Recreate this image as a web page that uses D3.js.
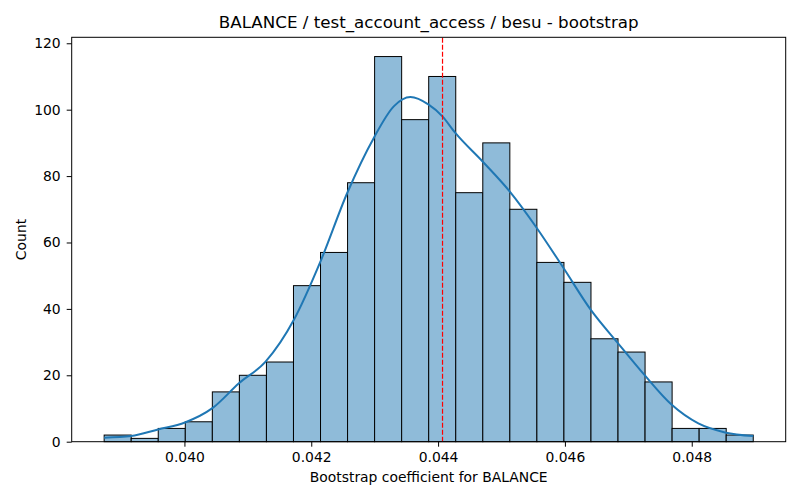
<!DOCTYPE html>
<html>
<head>
<meta charset="utf-8">
<script src="https://cdn.jsdelivr.net/npm/d3@7"></script>
<style>
  body { margin: 0; background: #fff; }
  svg { font-family: "DejaVu Sans", sans-serif; }
</style>
</head>
<body>
<div class="hist"></div>
<script>
// histogram bins (counts), first edge and bin width
const binStart = 0.038734
const binWidth = 0.0004265
const counts = [2, 1, 4, 6, 15, 20, 24, 47, 57, 78, 116, 97, 110, 75, 90, 70, 54, 48, 31, 27, 18, 4, 4, 2]

// kde curve
const kdeX = [0.038734, 0.039159, 0.039584, 0.040009, 0.040441, 0.040860, 0.041280, 0.041726, 0.042146,
  0.042567, 0.042986, 0.043301, 0.043564, 0.043852, 0.044068, 0.044272, 0.044702, 0.045128, 0.045559,
  0.045978, 0.046409, 0.046835, 0.047254, 0.047685, 0.048104, 0.048524, 0.048970]
const kdeY = [1.2, 1.7, 3.7, 5.8, 10.1, 17.6, 24.1, 36.7, 54.3, 74.9, 91.5, 101, 103.8, 101.5, 98, 93,
  84.4, 75.4, 64.3, 52.3, 39.7, 29.7, 20.1, 11.1, 5.5, 2.8, 1.7]

const meanValue = 0.04407
const xTicks = [0.040, 0.042, 0.044, 0.046, 0.048]
const yTicks = [0, 20, 40, 60, 80, 100, 120]

const title = "BALANCE / test_account_access / besu - bootstrap"
const xLabel = "Bootstrap coefficient for BALANCE"
const yLabel = "Count"

const w = 800
const h = 500
const mLeft = 71.7, mRight = 785.7, mTop = 37.3, mBottom = 441.7

const bins = counts.map((c, i) => ({x0: binStart + i * binWidth, x1: binStart + (i + 1) * binWidth, n: c}))
const xMin = bins[0].x0, xMax = bins[bins.length - 1].x1
const pad = (xMax - xMin) * 0.05

const x = d3.scaleLinear().domain([xMin - pad, xMax + pad]).range([mLeft, mRight])
const y = d3.scaleLinear().domain([0, d3.max(counts) * 1.05]).range([mBottom, mTop])

const svg = d3.select(".hist").append("svg").attr("width", w).attr("height", h)

svg.append("g").selectAll("rect")
    .data(bins)
    .enter()
    .append("rect")
    .attr("x", d => x(d.x0))
    .attr("width", d => x(d.x1) - x(d.x0))
    .attr("y", d => y(d.n))
    .attr("height", d => y(0) - y(d.n))
    .attr("fill", "#8fbbd9")
    .attr("stroke", "#000")
    .attr("stroke-width", 1)

const kde = kdeX.map((v, i) => [v, kdeY[i]])
svg.append("path")
    .datum(kde)
    .attr("fill", "none")
    .attr("stroke", "#1f77b4")
    .attr("stroke-width", 2)
    .attr("d", d3.line().x(d => x(d[0])).y(d => y(d[1])).curve(d3.curveMonotoneX))

svg.append("line")
    .attr("x1", x(meanValue)).attr("x2", x(meanValue))
    .attr("y1", y.range()[0]).attr("y2", y.range()[1])
    .attr("stroke", "red")
    .attr("stroke-width", 1.2)
    .attr("stroke-dasharray", "5,2")

// frame
svg.append("rect")
    .attr("x", mLeft).attr("y", mTop)
    .attr("width", mRight - mLeft).attr("height", mBottom - mTop)
    .attr("fill", "none").attr("stroke", "#000").attr("stroke-width", 1)

const xAxis = d3.axisBottom(x).tickValues(xTicks).tickFormat(d3.format(".3f")).tickSize(5).tickPadding(5)
const yAxis = d3.axisLeft(y).tickValues(yTicks).tickSize(5).tickPadding(6)

const gx = svg.append("g").attr("transform", `translate(0,${mBottom})`).call(xAxis)
const gy = svg.append("g").attr("transform", `translate(${mLeft},0)`).call(yAxis)
for (const g of [gx, gy]) {
  g.select(".domain").remove()
  g.selectAll("text").attr("font-size", 13.9).attr("fill", "#000").attr("font-family", "DejaVu Sans")
  g.selectAll("line").attr("stroke", "#000")
}

svg.append("text")
    .attr("x", (mLeft + mRight) / 2).attr("y", 28)
    .attr("text-anchor", "middle")
    .attr("font-size", 16.7)
    .text(title)

svg.append("text")
    .attr("x", (mLeft + mRight) / 2).attr("y", 482)
    .attr("text-anchor", "middle")
    .attr("font-size", 13.9)
    .text(xLabel)

svg.append("text")
    .attr("transform", `translate(25.5,${(mTop + mBottom) / 2}) rotate(-90)`)
    .attr("text-anchor", "middle")
    .attr("font-size", 13.9)
    .text(yLabel)
</script>
</body>
</html>
